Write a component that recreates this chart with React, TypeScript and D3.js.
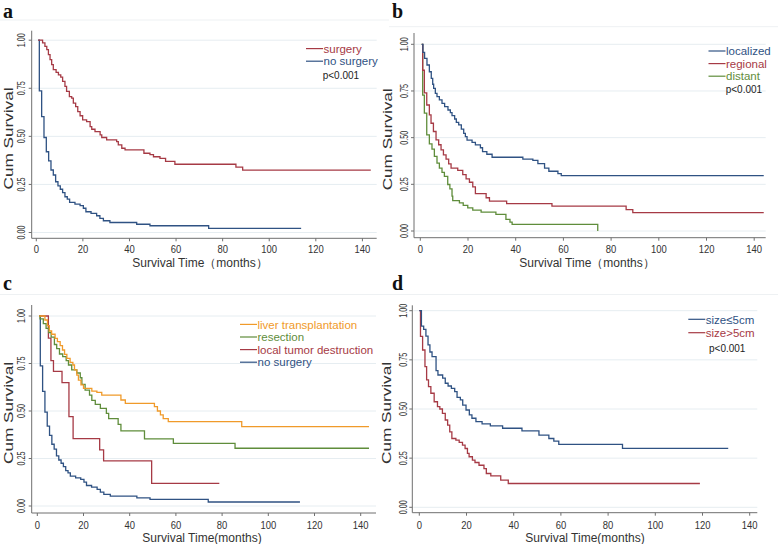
import React, { useEffect, useRef } from 'react'
import * as d3 from 'd3'

type Pt = [number, number]

const xTicks = [0, 20, 40, 60, 80, 100, 120, 140]
const yTicks = [0, 0.25, 0.5, 0.75, 1]
const yTickLabels = ['0.00', '0.25', '0.50', '0.75', '1.00']

// panel a
const surgery: Pt[] = [[0.8, 1], [2.7, 0.986], [3.7, 0.968], [4.5, 0.951], [5.2, 0.925], [5.9, 0.899], [6.6, 0.873], [7.3, 0.847], [8.5, 0.833], [9.5, 0.82], [10.5, 0.808], [11.3, 0.786], [12.3, 0.76], [13.0, 0.734], [14.2, 0.707], [15.2, 0.699], [15.9, 0.673], [16.9, 0.655], [17.8, 0.629], [18.8, 0.607], [19.9, 0.586], [21.6, 0.577], [23.1, 0.551], [23.8, 0.537], [25.2, 0.525], [27.4, 0.508], [28.1, 0.494], [30.2, 0.482], [34.5, 0.473], [35.2, 0.456], [36.7, 0.438], [38.1, 0.43], [46.2, 0.412], [48.8, 0.405], [50.3, 0.394], [53.1, 0.385], [55.5, 0.37], [59.5, 0.355], [85.7, 0.34], [88.6, 0.324], [143.6, 0.324]]
const noSurgery: Pt[] = [[0.8, 1], [1.3, 0.737], [2.3, 0.603], [3.3, 0.494], [4.3, 0.42], [5.3, 0.372], [6.3, 0.325], [7.3, 0.299], [8.3, 0.264], [9.3, 0.242], [10.3, 0.225], [11.3, 0.207], [12.3, 0.186], [13.3, 0.174], [14.3, 0.157], [16.6, 0.148], [18.8, 0.14], [20.2, 0.126], [21.3, 0.108], [23.5, 0.099], [25.9, 0.087], [27.3, 0.073], [28.8, 0.061], [31.6, 0.052], [43.1, 0.043], [48.8, 0.035], [74, 0.021], [113.7, 0.021]]

// panel b
const localized: Pt[] = [[0.6, 1], [1.1, 0.957], [1.8, 0.925], [2.8, 0.889], [3.8, 0.853], [4.6, 0.818], [5.2, 0.786], [5.6, 0.764], [6.3, 0.737], [7, 0.72], [8, 0.702], [9.1, 0.684], [10.2, 0.666], [11.6, 0.648], [12.6, 0.634], [13.3, 0.618], [14.4, 0.6], [15.1, 0.582], [16.1, 0.568], [17.2, 0.546], [18.2, 0.523], [18.9, 0.505], [19.6, 0.487], [21.7, 0.475], [23.1, 0.461], [25.2, 0.446], [26.1, 0.425], [27.9, 0.411], [30.1, 0.395], [43, 0.385], [47.2, 0.378], [49.3, 0.361], [52.1, 0.337], [53.9, 0.32], [57.7, 0.307], [59.1, 0.297], [144, 0.297]]
const regional: Pt[] = [[0.6, 1], [1.0, 0.861], [1.7, 0.74], [2.7, 0.675], [3.8, 0.622], [4.5, 0.577], [5.5, 0.533], [6.6, 0.488], [7.7, 0.462], [8.7, 0.435], [9.7, 0.408], [10.8, 0.385], [11.9, 0.36], [12.9, 0.337], [15.7, 0.325], [17.8, 0.302], [19.2, 0.279], [20.6, 0.261], [22, 0.236], [23.1, 0.2], [27.6, 0.178], [29, 0.16], [36.2, 0.147], [55.2, 0.133], [86.3, 0.115], [89.1, 0.098], [144, 0.098]]
const distant: Pt[] = [[0.6, 1], [1.0, 0.728], [1.7, 0.631], [2.7, 0.515], [3.8, 0.467], [4.9, 0.439], [5.9, 0.4], [7.0, 0.364], [8.0, 0.337], [9.1, 0.314], [10.1, 0.293], [11.5, 0.249], [12.4, 0.226], [13.3, 0.187], [13.6, 0.163], [16.4, 0.151], [18.0, 0.137], [19.9, 0.124], [22.0, 0.112], [25.5, 0.101], [31.7, 0.089], [35.9, 0.062], [37.6, 0.048], [38.5, 0.036], [74.4, 0]]

// panel c
const liverTransplant: Pt[] = [[0.8, 1], [3.3, 0.979], [4.4, 0.949], [5.2, 0.921], [6.2, 0.904], [7.7, 0.882], [8.7, 0.865], [9.9, 0.844], [10.9, 0.821], [11.8, 0.798], [12.8, 0.777], [14.2, 0.756], [15.4, 0.742], [16.1, 0.716], [17.1, 0.689], [17.8, 0.663], [18.9, 0.637], [20.0, 0.619], [23.6, 0.605], [25.8, 0.598], [27.9, 0.584], [36.2, 0.558], [38.1, 0.54], [50.7, 0.523], [52, 0.5], [53.3, 0.48], [54.5, 0.46], [56.7, 0.444], [88.5, 0.418], [143.6, 0.418]]
const resection: Pt[] = [[0.8, 1], [1.2, 0.985], [2.6, 0.96], [3.8, 0.935], [4.9, 0.912], [6.0, 0.889], [7.4, 0.85], [8.4, 0.828], [9.6, 0.8], [11, 0.786], [12.5, 0.765], [13.5, 0.742], [14.9, 0.716], [17.1, 0.7], [18.6, 0.675], [19.3, 0.64], [20.7, 0.61], [22.6, 0.584], [23.6, 0.556], [25.1, 0.535], [27.3, 0.514], [29.9, 0.488], [30.9, 0.46], [35, 0.43], [36.2, 0.395], [46.4, 0.353], [58.9, 0.33], [85.6, 0.304], [143.6, 0.304]]
const localDestruction: Pt[] = [[0.8, 1], [4.8, 0.884], [5.9, 0.765], [7.0, 0.709], [10.7, 0.649], [13.7, 0.47], [15.5, 0.355], [27, 0.295], [28.7, 0.237], [49.5, 0.119], [78.8, 0.119]]

// panel d
const sizeSmall: Pt[] = [[0, 1], [0.9, 0.922], [1.85, 0.905], [2.8, 0.871], [3.7, 0.826], [4.5, 0.79], [5.4, 0.766], [7.1, 0.695], [7.9, 0.673], [9.9, 0.657], [11.0, 0.631], [12.2, 0.617], [13.6, 0.605], [15, 0.588], [16, 0.559], [17.4, 0.546], [18.4, 0.52], [19.8, 0.495], [21.2, 0.47], [22.3, 0.453], [24.0, 0.436], [26.6, 0.424], [30.1, 0.414], [35.3, 0.402], [43.5, 0.389], [50.7, 0.367], [54.9, 0.35], [57, 0.337], [59.1, 0.32], [86.1, 0.3], [130.9, 0.3]]
const sizeLarge: Pt[] = [[0, 1], [0.5, 0.869], [1.4, 0.8], [2.4, 0.716], [3.1, 0.648], [3.9, 0.614], [4.9, 0.58], [6.3, 0.537], [7.7, 0.512], [8.7, 0.5], [9.8, 0.478], [11, 0.444], [12, 0.418], [12.9, 0.384], [13.8, 0.35], [15.5, 0.342], [16.9, 0.33], [18.3, 0.316], [19.4, 0.299], [20.4, 0.274], [21.1, 0.257], [22.5, 0.24], [23.6, 0.228], [25.3, 0.214], [27.4, 0.197], [28.4, 0.172], [30.3, 0.16], [34.5, 0.138], [37.7, 0.121], [118.9, 0.121]]

const RED = '#a63a45'
const BLUE = '#2f5283'
const GREEN = '#5f8d3b'
const ORANGE = '#f09a2a'

const panels = [
    {
        letter: 'a', lx: 3, ly: 18, sep: 20, sepX: [0, 389],
        x0: 36.3, x140: 362.4, y0: 232.5, y1: 40.2,
        left: 31.7, right: 376.7, top: 30.7, bottom: 238.3,
        tickY: 252.5, titleX: 200, titleY: 266.5, xTitle: 'Survival Time（months）',
        yTickX: 25, yLabX: 12.5,
        series: [{ name: 'surgery', data: surgery, color: RED }, { name: 'no surgery', data: noSurgery, color: BLUE }],
        legX: 306, legRows: [48.6, 61.2], pval: [322.7, 78.5]
    },
    {
        letter: 'b', lx: 392, ly: 18, sep: 26.7, sepX: [389, 778],
        x0: 420.3, x140: 754.2, y0: 231, y1: 44.3,
        left: 414, right: 765.7, top: 33, bottom: 237.7,
        tickY: 252.5, titleX: 587, titleY: 266.5, xTitle: 'Survival Time（months）',
        yTickX: 407.5, yLabX: 392,
        series: [{ name: 'localized', data: localized, color: BLUE }, { name: 'regional', data: regional, color: RED }, { name: 'distant', data: distant, color: GREEN }],
        legX: 708.5, legRows: [51, 63.6, 76.2], pval: [725.7, 93]
    },
    {
        letter: 'c', lx: 3, ly: 290, sep: 294.5, sepX: [0, 389],
        x0: 37.3, x140: 360.7, y0: 506, y1: 316,
        left: 31.7, right: 376, top: 305, bottom: 513,
        tickY: 528.5, titleX: 202, titleY: 542, xTitle: 'Survival Time(months)',
        yTickX: 25, yLabX: 12.5,
        series: [{ name: 'liver transplantation', data: liverTransplant, color: ORANGE }, { name: 'resection', data: resection, color: GREEN }, { name: 'local tumor destruction', data: localDestruction, color: RED }, { name: 'no surgery', data: noSurgery, color: BLUE }],
        legX: 240, legRows: [324.4, 337, 349.6, 362.2], pval: null
    },
    {
        letter: 'd', lx: 392, ly: 290, sep: 294.5, sepX: [389, 778],
        x0: 419.3, x140: 749.7, y0: 507.3, y1: 310.7,
        left: 412.3, right: 757.3, top: 305.3, bottom: 512.7,
        tickY: 528.5, titleX: 585, titleY: 542, xTitle: 'Survival Time(months)',
        yTickX: 406.5, yLabX: 391,
        series: [{ name: 'size≤5cm', data: sizeSmall, color: BLUE }, { name: 'size>5cm', data: sizeLarge, color: RED }],
        legX: 688.3, legRows: [319.3, 332.7], pval: [709, 351.5]
    }
]

const FONT = '"Liberation Sans", Arial, sans-serif'

const App = () => {
    const ref = useRef<SVGSVGElement | null>(null)

    useEffect(() => {
        const svg = d3.select(ref.current)
        svg.selectAll('*').remove()

        svg.append('rect').attr('width', 778).attr('height', 544).attr('fill', '#fff')

        panels.forEach(p => {
            const x = d3.scaleLinear().domain([0, 140]).range([p.x0, p.x140])
            const y = d3.scaleLinear().domain([0, 1]).range([p.y0, p.y1])
            const g = svg.append('g')

            // faint header line
            g.append('line')
                .attr('x1', p.sepX[0]).attr('x2', p.sepX[1])
                .attr('y1', p.sep).attr('y2', p.sep)
                .attr('stroke', '#eef1f3').attr('stroke-width', 1)

            g.append('text')
                .attr('x', p.lx).attr('y', p.ly)
                .attr('font-family', '"Liberation Serif", "Times New Roman", serif')
                .attr('font-weight', 'bold')
                .attr('font-size', 20)
                .attr('fill', '#111')
                .text(p.letter)

            // gridlines
            g.selectAll('line.grid')
                .data(yTicks)
                .join('line')
                .attr('class', 'grid')
                .attr('x1', p.left + 1).attr('x2', p.right)
                .attr('y1', d => y(d)).attr('y2', d => y(d))
                .attr('stroke', '#e6edf1').attr('stroke-width', 1)

            // axes
            g.append('line')
                .attr('x1', p.left).attr('x2', p.left)
                .attr('y1', p.top).attr('y2', p.bottom)
                .attr('stroke', '#6f6f6f').attr('stroke-width', 1)
            g.append('line')
                .attr('x1', p.left).attr('x2', p.right)
                .attr('y1', p.bottom).attr('y2', p.bottom)
                .attr('stroke', '#6f6f6f').attr('stroke-width', 1)

            g.selectAll('line.ytick')
                .data(yTicks)
                .join('line')
                .attr('class', 'ytick')
                .attr('x1', p.left - 3).attr('x2', p.left)
                .attr('y1', d => y(d)).attr('y2', d => y(d))
                .attr('stroke', '#6f6f6f')

            g.selectAll('text.ytick')
                .data(yTicks)
                .join('text')
                .attr('class', 'ytick')
                .attr('transform', d => `translate(${p.yTickX},${y(d)}) rotate(-90)`)
                .attr('text-anchor', 'middle')
                .attr('font-family', FONT)
                .attr('font-size', 10)
                .attr('textLength', 14)
                .attr('lengthAdjust', 'spacingAndGlyphs')
                .attr('fill', '#333')
                .text((d, i) => yTickLabels[i])

            g.selectAll('line.xtick')
                .data(xTicks)
                .join('line')
                .attr('class', 'xtick')
                .attr('x1', d => x(d)).attr('x2', d => x(d))
                .attr('y1', p.bottom).attr('y2', p.bottom + 3)
                .attr('stroke', '#6f6f6f')

            g.selectAll('text.xtick')
                .data(xTicks)
                .join('text')
                .attr('class', 'xtick')
                .attr('transform', d => `translate(${x(d)},${p.tickY}) scale(0.9,1)`)
                .attr('text-anchor', 'middle')
                .attr('font-family', FONT)
                .attr('font-size', 10.5)
                .attr('fill', '#333')
                .text(d => d)

            g.append('text')
                .attr('x', p.titleX).attr('y', p.titleY)
                .attr('text-anchor', 'middle')
                .attr('font-family', FONT)
                .attr('font-size', 12)
                .attr('fill', '#333')
                .text(p.xTitle)

            g.append('text')
                .attr('transform', `translate(${p.yLabX},${(p.top + p.bottom) / 2 + 4}) rotate(-90)`)
                .attr('text-anchor', 'middle')
                .attr('font-family', FONT)
                .attr('font-size', 13)
                .attr('textLength', 102)
                .attr('lengthAdjust', 'spacingAndGlyphs')
                .attr('fill', '#333')
                .text('Cum Survival')

            const line = d3.line<Pt>()
                .x(d => x(d[0]))
                .y(d => y(d[1]))
                .curve(d3.curveStepAfter)

            p.series.slice().reverse().forEach(s => {
                g.append('path')
                    .attr('d', line(s.data))
                    .attr('fill', 'none')
                    .attr('stroke', s.color)
                    .attr('stroke-width', 1.3)
            })

            // legend
            p.series.forEach((s, i) => {
                const ly = p.legRows[i]
                g.append('line')
                    .attr('x1', p.legX).attr('x2', p.legX + 17)
                    .attr('y1', ly).attr('y2', ly)
                    .attr('stroke', s.color).attr('stroke-width', 1.2)
                g.append('text')
                    .attr('x', p.legX + 17.5).attr('y', ly + 4.2)
                    .attr('font-family', FONT)
                    .attr('font-size', 11.5)
                    .attr('fill', s.color)
                    .text(s.name)
            })

            if (p.pval) {
                g.append('text')
                    .attr('x', p.pval[0]).attr('y', p.pval[1])
                    .attr('font-family', FONT)
                    .attr('font-size', 10)
                    .attr('fill', '#222')
                    .text('p<0.001')
            }
        })
    }, [])

    return (
        <svg ref={ref} width={778} height={544} style={{ position: 'absolute', left: 0, top: 0 }} />
    )
}

export default App
